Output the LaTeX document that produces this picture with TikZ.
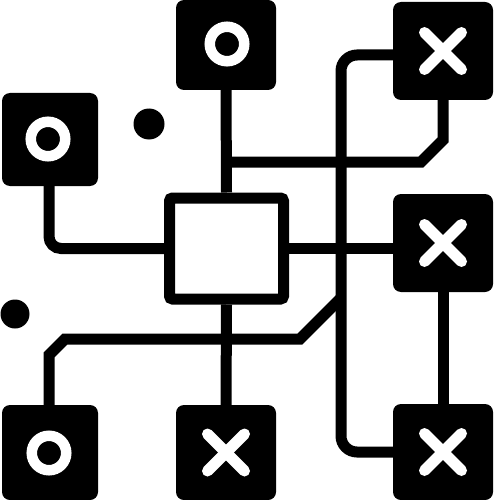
\documentclass[tikz,border=0pt]{standalone}
\begin{document}
\begin{tikzpicture}[x=1pt,y=-1pt,
  box/.style={rectangle, rounded corners=8pt, fill=black, inner sep=0pt, outer sep=0pt},
  conn/.style={draw=black, line width=11pt},
  ring/.style={draw=white, line width=10.5pt},
  xmark/.style={draw=white, line width=11pt, line cap=round},
  dot/.style={circle, fill=black, inner sep=0pt},
  centre/.style={rectangle, draw=black, fill=white, line width=11pt, rounded corners=3pt,
                 minimum width=114pt, minimum height=101pt, inner sep=0pt}]
\useasboundingbox (0,0) rectangle (494,500);
% boxes
\node[box, minimum width=96pt,  minimum height=93pt] (tl) at (50,139.5) {};
\node[box, minimum width=100pt, minimum height=90pt] (tc) at (226,45) {};
\node[box, minimum width=100pt, minimum height=98pt] (tr) at (443,51) {};
\node[box, minimum width=100pt, minimum height=98pt] (mr) at (443,243) {};
\node[box, minimum width=100pt, minimum height=96pt] (br) at (443,452) {};
\node[box, minimum width=100pt, minimum height=95pt] (bc) at (226,452.5) {};
\node[box, minimum width=96pt,  minimum height=95pt] (bl) at (50,452.5) {};
% centre square
\node[centre] (cs) at (226.5,248.5) {};
% dots
\node[dot, minimum size=31pt] (d1) at (149,124) {};
\node[dot, minimum size=29pt] (d2) at (15,314) {};
% junctions
\coordinate (j1) at (226.5,162);
\coordinate (j2) at (341,298);
% connectors
\draw[conn, rounded corners=12pt] ([xshift=-1pt]tl.south) |- (cs.west);
\draw[conn] (tc.south) -- (cs.north);
\draw[conn] (cs.east) -- (mr.west |- cs.east);
\draw[conn] (cs.south) -- (bc.north);
\draw[conn] (tr.south) -- (443,140) -- (421,162) -- (j1);
\draw[conn, rounded corners=16pt] ([yshift=-4pt]tr.west) -| (j2) |- (br.west);
\draw[conn] ([xshift=-1pt]bl.north) -- (49,355) -- (65,339) -- (300,339) -- (j2);
\draw[conn] (mr.south) -- (br.north);
% marks
\draw[ring] (48,139) circle (17.25);
\draw[ring] (227,44) circle (17.25);
\draw[ring] (49,453) circle (17.25);
\foreach \n in {tr,mr,br,bc}{
  \draw[xmark] ([shift={(-18.5pt,-18.5pt)}]\n.center) -- ([shift={(18.5pt,18.5pt)}]\n.center);
  \draw[xmark] ([shift={(-18.5pt,18.5pt)}]\n.center) -- ([shift={(18.5pt,-18.5pt)}]\n.center);
}
\end{tikzpicture}
\end{document}
